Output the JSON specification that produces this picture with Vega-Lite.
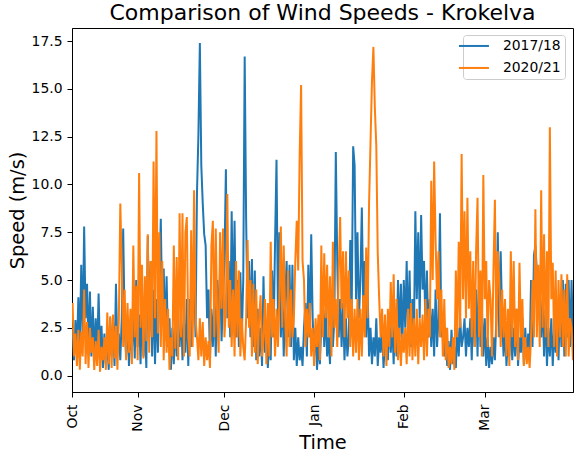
{
"$schema": "https://vega.github.io/schema/vega-lite/v6.json",
"width": 501, "height": 364,
"autosize": "none",
"padding": {"left": 72, "top": 28, "right": 1, "bottom": 62},
"background": "white",
"title": {"text": "Comparison of Wind Speeds - Krokelva", "fontSize": 22, "font": "DejaVu Sans", "fontWeight": "normal", "color": "black", "anchor": "middle", "frame": "group", "offset": 3},
"data": {"values": [
{"d":8.5,"a":2.5,"b":3.8},
{"d":9,"a":0.8,"b":1.0},{"d":9.5,"a":2.9,"b":2.2},
{"d":10,"a":1.2,"b":0.5},{"d":10.5,"a":4.1,"b":2.4},
{"d":11,"a":1.5,"b":0.3},{"d":11.5,"a":5.8,"b":2.3},
{"d":12,"a":2.0,"b":1.0},{"d":12.5,"a":7.8,"b":4.5},
{"d":13,"a":3.0,"b":0.6},{"d":13.5,"a":4.8,"b":2.8},
{"d":14,"a":1.4,"b":0.4},{"d":14.5,"a":4.4,"b":2.5},
{"d":15,"a":1.0,"b":1.2},{"d":15.5,"a":3.6,"b":2.0},
{"d":16,"a":0.9,"b":0.3},{"d":16.5,"a":3.0,"b":1.8},
{"d":17,"a":1.2,"b":0.5},{"d":17.5,"a":4.3,"b":2.4},
{"d":18,"a":1.0,"b":0.2},{"d":18.5,"a":2.6,"b":1.5},
{"d":19,"a":0.4,"b":0.8},{"d":19.5,"a":2.2,"b":2.0},
{"d":20,"a":0.6,"b":0.3},{"d":20.5,"a":1.8,"b":3.3},
{"d":21,"a":0.3,"b":0.6},{"d":21.5,"a":3.0,"b":3.1},
{"d":22,"a":1.0,"b":0.4},{"d":22.5,"a":2.8,"b":3.2},
{"d":23,"a":0.5,"b":0.9},{"d":23.5,"a":4.8,"b":2.6},
{"d":24,"a":1.2,"b":0.3},{"d":24.5,"a":2.2,"b":3.0},
{"d":25,"a":0.8,"b":9.0},{"d":25.5,"a":3.0,"b":5.8},
{"d":26,"a":7.7,"b":1.5},{"d":26.5,"a":2.5,"b":4.5},
{"d":27,"a":1.0,"b":0.8},{"d":27.5,"a":3.0,"b":3.8},
{"d":28,"a":0.5,"b":1.2},{"d":28.5,"a":2.2,"b":3.5},
{"d":29,"a":1.3,"b":0.6},{"d":29.5,"a":3.4,"b":6.8},
{"d":30,"a":0.9,"b":2.0},{"d":30.5,"a":5.0,"b":4.7},
{"d":31,"a":1.5,"b":0.8},{"d":31.5,"a":3.2,"b":10.6},
{"d":32,"a":0.6,"b":2.5},{"d":32.5,"a":3.8,"b":5.8},
{"d":33,"a":1.0,"b":0.9},{"d":33.5,"a":2.5,"b":5.2},
{"d":34,"a":0.4,"b":1.8},{"d":34.5,"a":7.3,"b":7.4},
{"d":35,"a":2.0,"b":1.2},{"d":35.5,"a":6.0,"b":6.0},
{"d":36,"a":1.0,"b":2.0},{"d":36.5,"a":4.5,"b":11.2},
{"d":37,"a":0.6,"b":3.0},{"d":37.5,"a":4.0,"b":12.8},
{"d":38,"a":1.2,"b":2.2},{"d":38.5,"a":5.0,"b":7.5},
{"d":39,"a":8.2,"b":1.5},{"d":39.5,"a":3.0,"b":6.0},
{"d":40,"a":5.6,"b":0.8},{"d":40.5,"a":2.0,"b":4.0},
{"d":41,"a":5.2,"b":1.2},{"d":41.5,"a":1.5,"b":3.5},
{"d":42,"a":3.0,"b":0.3},{"d":42.5,"a":0.3,"b":2.0},
{"d":43,"a":2.5,"b":1.0},{"d":43.5,"a":0.6,"b":6.8},
{"d":44,"a":3.2,"b":1.4},{"d":44.5,"a":1.0,"b":6.2},
{"d":45,"a":2.0,"b":0.8},{"d":45.5,"a":1.5,"b":8.5},
{"d":46,"a":3.5,"b":2.0},{"d":46.5,"a":0.8,"b":8.5},
{"d":47,"a":2.8,"b":1.0},{"d":47.5,"a":1.2,"b":7.5},
{"d":48,"a":4.0,"b":8.3},{"d":48.5,"a":0.5,"b":2.0},
{"d":49,"a":4.0,"b":1.0},{"d":49.5,"a":1.5,"b":7.6},
{"d":50,"a":3.0,"b":1.5},{"d":50.5,"a":5.7,"b":9.7},
{"d":51,"a":2.0,"b":3.0},{"d":51.5,"a":9.5,"b":2.0},
{"d":52,"a":12.6,"b":0.8},{"d":52.5,"a":17.4,"b":3.0},
{"d":53,"a":11.0,"b":1.0},{"d":53.5,"a":9.0,"b":2.8},
{"d":54,"a":7.4,"b":0.5},{"d":54.5,"a":6.8,"b":2.0},
{"d":55,"a":3.0,"b":0.8},{"d":55.5,"a":4.5,"b":1.8},
{"d":56,"a":0.8,"b":0.4},{"d":56.5,"a":3.5,"b":6.8},
{"d":57,"a":1.5,"b":8.1},{"d":57.5,"a":4.0,"b":2.0},
{"d":58,"a":1.0,"b":7.7},{"d":58.5,"a":5.0,"b":3.0},
{"d":59,"a":2.5,"b":1.2},{"d":59.5,"a":5.8,"b":7.5},
{"d":60,"a":1.8,"b":3.5},{"d":60.5,"a":4.0,"b":7.7},
{"d":61,"a":6.0,"b":2.0},{"d":61.5,"a":10.8,"b":3.5},
{"d":62,"a":3.0,"b":9.5},{"d":62.5,"a":6.0,"b":2.5},
{"d":63,"a":2.0,"b":5.0},{"d":63.5,"a":8.6,"b":1.5},
{"d":64,"a":3.0,"b":4.5},{"d":64.5,"a":8.1,"b":1.0},
{"d":65,"a":2.0,"b":6.0},{"d":65.5,"a":5.0,"b":2.0},
{"d":66,"a":1.5,"b":5.5},{"d":66.5,"a":5.4,"b":1.0},
{"d":67,"a":2.0,"b":3.0},{"d":67.5,"a":5.0,"b":1.5},
{"d":68,"a":16.7,"b":0.8},{"d":68.5,"a":8.2,"b":3.0},
{"d":69,"a":3.0,"b":7.1},{"d":69.5,"a":6.0,"b":2.5},
{"d":70,"a":2.0,"b":5.0},{"d":70.5,"a":6.1,"b":1.0},
{"d":71,"a":1.5,"b":4.8},{"d":71.5,"a":5.5,"b":1.2},
{"d":72,"a":0.8,"b":4.5},{"d":72.5,"a":3.5,"b":0.6},
{"d":73,"a":1.0,"b":3.0},{"d":73.5,"a":2.5,"b":4.2},
{"d":74,"a":0.5,"b":1.0},{"d":74.5,"a":5.2,"b":2.0},
{"d":75,"a":1.2,"b":4.0},{"d":75.5,"a":2.8,"b":0.6},
{"d":76,"a":0.4,"b":3.8},{"d":76.5,"a":2.0,"b":1.0},
{"d":77,"a":0.8,"b":7.0},{"d":77.5,"a":5.5,"b":2.0},
{"d":78,"a":2.0,"b":4.0},{"d":78.5,"a":7.0,"b":1.0},
{"d":79,"a":11.3,"b":3.5},{"d":79.5,"a":3.0,"b":1.5},
{"d":80,"a":7.5,"b":4.0},{"d":80.5,"a":2.0,"b":7.8},
{"d":81,"a":4.5,"b":2.5},{"d":81.5,"a":1.0,"b":6.8},
{"d":82,"a":4.0,"b":3.0},{"d":82.5,"a":6.0,"b":1.0},
{"d":83,"a":2.0,"b":5.5},{"d":83.5,"a":5.8,"b":1.5},
{"d":84,"a":1.5,"b":4.5},{"d":84.5,"a":5.8,"b":2.0},
{"d":85,"a":0.8,"b":3.0},{"d":85.5,"a":2.5,"b":6.0},
{"d":86,"a":0.5,"b":8.1},{"d":86.5,"a":2.0,"b":5.5},
{"d":87,"a":0.8,"b":11.5},{"d":87.5,"a":1.5,"b":15.2},
{"d":88,"a":0.5,"b":6.0},{"d":88.5,"a":2.5,"b":5.0},
{"d":89,"a":3.8,"b":1.5},{"d":89.5,"a":1.0,"b":3.5},
{"d":90,"a":5.8,"b":2.0},{"d":90.5,"a":2.0,"b":3.8},
{"d":91,"a":7.4,"b":1.0},{"d":91.5,"a":3.0,"b":2.5},
{"d":92,"a":1.0,"b":0.5},{"d":92.5,"a":2.5,"b":3.0},
{"d":93,"a":0.3,"b":1.5},{"d":93.5,"a":1.8,"b":3.2},
{"d":94,"a":0.6,"b":0.8},{"d":94.5,"a":2.8,"b":6.8},
{"d":95,"a":4.0,"b":2.0},{"d":95.5,"a":1.5,"b":6.4},
{"d":96,"a":3.5,"b":3.0},{"d":96.5,"a":1.0,"b":5.8},
{"d":97,"a":2.0,"b":2.0},{"d":97.5,"a":0.6,"b":5.2},
{"d":98,"a":4.5,"b":1.0},{"d":98.5,"a":1.5,"b":7.0},
{"d":99,"a":3.0,"b":2.5},{"d":99.5,"a":11.7,"b":4.0},
{"d":100,"a":6.0,"b":1.5},{"d":100.5,"a":2.0,"b":5.5},
{"d":101,"a":4.0,"b":8.3},{"d":101.5,"a":1.5,"b":3.5},
{"d":102,"a":3.8,"b":6.5},{"d":102.5,"a":0.8,"b":2.0},
{"d":103,"a":3.0,"b":6.5},{"d":103.5,"a":1.0,"b":3.0},
{"d":104,"a":2.0,"b":5.5},{"d":104.5,"a":7.1,"b":1.5},
{"d":105,"a":3.5,"b":4.0},{"d":105.5,"a":12.0,"b":1.0},
{"d":106,"a":11.0,"b":3.5},{"d":106.5,"a":4.0,"b":1.2},
{"d":107,"a":7.5,"b":4.0},{"d":107.5,"a":3.0,"b":0.8},
{"d":108,"a":5.0,"b":3.5},{"d":108.5,"a":8.8,"b":1.0},
{"d":109,"a":3.5,"b":4.2},{"d":109.5,"a":6.0,"b":2.0},
{"d":110,"a":2.0,"b":6.7},{"d":110.5,"a":4.5,"b":3.0},
{"d":111,"a":1.0,"b":9.0},{"d":111.5,"a":2.5,"b":12.2},
{"d":112,"a":0.6,"b":15.4},{"d":112.5,"a":2.0,"b":17.2},
{"d":113,"a":1.0,"b":14.0},{"d":113.5,"a":3.0,"b":12.0},
{"d":114,"a":0.5,"b":6.4},{"d":114.5,"a":2.0,"b":4.0},
{"d":115,"a":1.2,"b":2.0},{"d":115.5,"a":2.5,"b":3.5},
{"d":116,"a":0.4,"b":1.0},{"d":116.5,"a":1.8,"b":3.2},
{"d":117,"a":2.5,"b":0.5},{"d":117.5,"a":0.8,"b":3.5},
{"d":118,"a":3.0,"b":1.5},{"d":118.5,"a":1.2,"b":4.9},
{"d":119,"a":2.8,"b":2.0},{"d":119.5,"a":0.6,"b":5.3},
{"d":120,"a":3.2,"b":1.2},{"d":120.5,"a":1.0,"b":4.0},
{"d":121,"a":5.0,"b":0.8},{"d":121.5,"a":2.0,"b":2.5},
{"d":122,"a":4.8,"b":0.5},{"d":122.5,"a":1.5,"b":2.2},
{"d":123,"a":5.0,"b":1.2},{"d":123.5,"a":2.5,"b":2.5},
{"d":124,"a":6.0,"b":0.6},{"d":124.5,"a":2.0,"b":3.5},
{"d":125,"a":5.5,"b":1.0},{"d":125.5,"a":1.5,"b":3.8},
{"d":126,"a":4.0,"b":0.8},{"d":126.5,"a":2.0,"b":3.0},
{"d":127,"a":8.6,"b":1.0},{"d":127.5,"a":4.0,"b":3.5},
{"d":128,"a":7.5,"b":0.6},{"d":128.5,"a":3.0,"b":3.0},
{"d":129,"a":8.4,"b":1.5},{"d":129.5,"a":4.5,"b":3.2},
{"d":130,"a":6.0,"b":0.8},{"d":130.5,"a":2.5,"b":4.0},
{"d":131,"a":5.5,"b":1.0},{"d":131.5,"a":2.0,"b":3.5},
{"d":132,"a":4.0,"b":2.0},{"d":132.5,"a":1.5,"b":10.2},
{"d":133,"a":3.5,"b":5.0},{"d":133.5,"a":1.0,"b":11.2},
{"d":134,"a":4.5,"b":7.0},{"d":134.5,"a":1.5,"b":4.0},
{"d":135,"a":3.0,"b":6.5},{"d":135.5,"a":8.5,"b":2.0},
{"d":136,"a":2.0,"b":4.5},{"d":136.5,"a":3.0,"b":1.0},
{"d":137,"a":1.0,"b":4.0},{"d":137.5,"a":2.5,"b":0.8},
{"d":138,"a":0.5,"b":2.5},{"d":138.5,"a":1.8,"b":0.4},
{"d":139,"a":0.3,"b":1.5},{"d":139.5,"a":2.4,"b":0.6},
{"d":140,"a":0.6,"b":2.0},{"d":140.5,"a":1.5,"b":0.3},
{"d":141,"a":0.4,"b":5.5},{"d":141.5,"a":2.5,"b":2.0},
{"d":142,"a":1.0,"b":7.0},{"d":142.5,"a":3.0,"b":2.5},
{"d":143,"a":1.5,"b":11.6},{"d":143.5,"a":2.0,"b":4.0},
{"d":144,"a":3.0,"b":8.6},{"d":144.5,"a":1.0,"b":3.0},
{"d":145,"a":2.5,"b":9.3},{"d":145.5,"a":1.5,"b":3.5},
{"d":146,"a":3.0,"b":6.5},{"d":146.5,"a":0.8,"b":2.0},
{"d":147,"a":4.0,"b":6.0},{"d":147.5,"a":1.5,"b":1.5},
{"d":148,"a":4.5,"b":6.5},{"d":148.5,"a":1.0,"b":9.3},
{"d":149,"a":5.0,"b":2.0},{"d":149.5,"a":1.5,"b":5.5},
{"d":150,"a":3.5,"b":1.0},{"d":150.5,"a":1.0,"b":10.5},
{"d":151,"a":3.0,"b":4.0},{"d":151.5,"a":0.5,"b":6.0},
{"d":152,"a":2.0,"b":1.5},{"d":152.5,"a":0.4,"b":5.0},
{"d":153,"a":1.5,"b":4.0},{"d":153.5,"a":0.6,"b":1.0},
{"d":154,"a":2.0,"b":5.5},{"d":154.5,"a":0.8,"b":9.2},
{"d":155,"a":3.0,"b":2.0},{"d":155.5,"a":7.5,"b":6.5},
{"d":156,"a":2.0,"b":5.0},{"d":156.5,"a":6.5,"b":1.5},
{"d":157,"a":3.0,"b":4.5},{"d":157.5,"a":1.0,"b":2.0},
{"d":158,"a":2.5,"b":4.0},{"d":158.5,"a":0.5,"b":1.0},
{"d":159,"a":2.0,"b":3.5},{"d":159.5,"a":1.0,"b":0.5},
{"d":160,"a":3.0,"b":6.5},{"d":160.5,"a":0.8,"b":2.0},
{"d":161,"a":2.5,"b":6.0},{"d":161.5,"a":1.0,"b":1.5},
{"d":162,"a":3.5,"b":3.5},{"d":162.5,"a":0.5,"b":0.8},
{"d":163,"a":2.0,"b":5.9},{"d":163.5,"a":1.2,"b":2.0},
{"d":164,"a":3.0,"b":4.0},{"d":164.5,"a":0.6,"b":0.5},
{"d":165,"a":2.5,"b":2.0},{"d":165.5,"a":0.8,"b":0.6},
{"d":166,"a":2.2,"b":1.5},{"d":166.5,"a":1.0,"b":0.4},
{"d":167,"a":5.0,"b":2.0},{"d":167.5,"a":1.5,"b":5.0},
{"d":168,"a":6.3,"b":2.0},{"d":168.5,"a":6.8,"b":8.7},
{"d":169,"a":5.5,"b":2.0},{"d":169.5,"a":3.0,"b":5.8},
{"d":170,"a":4.5,"b":1.5},{"d":170.5,"a":2.0,"b":9.7},
{"d":171,"a":4.0,"b":2.5},{"d":171.5,"a":1.0,"b":7.4},
{"d":172,"a":3.5,"b":2.0},{"d":172.5,"a":0.5,"b":6.5},
{"d":173,"a":2.5,"b":1.5},{"d":173.5,"a":1.0,"b":13.0},
{"d":174,"a":3.0,"b":4.0},{"d":174.5,"a":0.5,"b":5.9},
{"d":175,"a":2.5,"b":1.5},{"d":175.5,"a":1.2,"b":5.5},
{"d":176,"a":3.5,"b":1.0},{"d":176.5,"a":0.8,"b":5.0},
{"d":177,"a":4.0,"b":2.0},{"d":177.5,"a":1.5,"b":5.3},
{"d":178,"a":5.0,"b":1.5},{"d":178.5,"a":1.0,"b":4.5},
{"d":179,"a":4.8,"b":1.0},{"d":179.5,"a":2.0,"b":5.3},
{"d":180,"a":5.0,"b":1.0},{"d":180.5,"a":1.5,"b":3.0},
{"d":181,"a":5.0,"b":2.5},{"d":181.5,"a":2.0,"b":0.8}
]},
"encoding": {
  "x": {"field": "d", "type": "quantitative",
    "scale": {"domain": [8.3, 181.5], "nice": false, "zero": false},
    "axis": {"title": "Time", "titlePadding": 2, "values": [8.3, 31, 61, 92, 123, 151],
      "labelExpr": "datum.value < 20 ? 'Oct' : datum.value < 40 ? 'Nov' : datum.value < 70 ? 'Dec' : datum.value < 100 ? 'Jan' : datum.value < 130 ? 'Feb' : 'Mar'",
      "labelAngle": 270, "labelAlign": "right", "labelBaseline": "middle", "labelPadding": 7, "labelFlush": false, "labelOverlap": false}}
},
"layer": [
  {"mark": {"type": "line", "strokeWidth": 2, "clip": true},
   "encoding": {
     "y": {"field": "a", "type": "quantitative", "scale": {"domain": [-0.86, 18.19], "nice": false, "zero": false},
       "axis": {"title": "Speed (m/s)", "values": [0, 2.5, 5, 7.5, 10, 12.5, 15, 17.5], "format": ".1f"}},
     "color": {"datum": "2017/18", "type": "nominal", "scale": {"domain": ["2017/18", "2020/21"], "range": ["#1f77b4", "#ff7f0e"]}, "legend": {"title": null}}
   }},
  {"mark": {"type": "line", "strokeWidth": 2, "clip": true},
   "encoding": {
     "y": {"field": "b", "type": "quantitative",
       "axis": {"title": "Speed (m/s)", "values": [0, 2.5, 5, 7.5, 10, 12.5, 15, 17.5], "format": ".1f"}},
     "color": {"datum": "2020/21", "type": "nominal"}
   }}
],
"config": {
  "view": {"stroke": "black", "strokeWidth": 1},
  "axis": {"domainColor": "black", "tickColor": "black", "labelColor": "black", "titleColor": "black",
    "labelFont": "DejaVu Sans", "titleFont": "DejaVu Sans", "labelFontSize": 13.9, "titleFontSize": 19.4,
    "titleFontWeight": "normal", "tickSize": 5, "labelPadding": 5, "grid": false},
  "legend": {"orient": "none", "legendX": 391, "legendY": 7, "labelFont": "DejaVu Sans", "labelFontSize": 13.9,
    "labelColor": "black", "symbolType": "M-3,0H3", "symbolStrokeWidth": 2, "symbolSize": 100,
    "strokeColor": "#cccccc", "fillColor": "rgba(255,255,255,0.8)", "cornerRadius": 3, "padding": 4,
    "labelOffset": 22, "rowPadding": 7}
}
}
